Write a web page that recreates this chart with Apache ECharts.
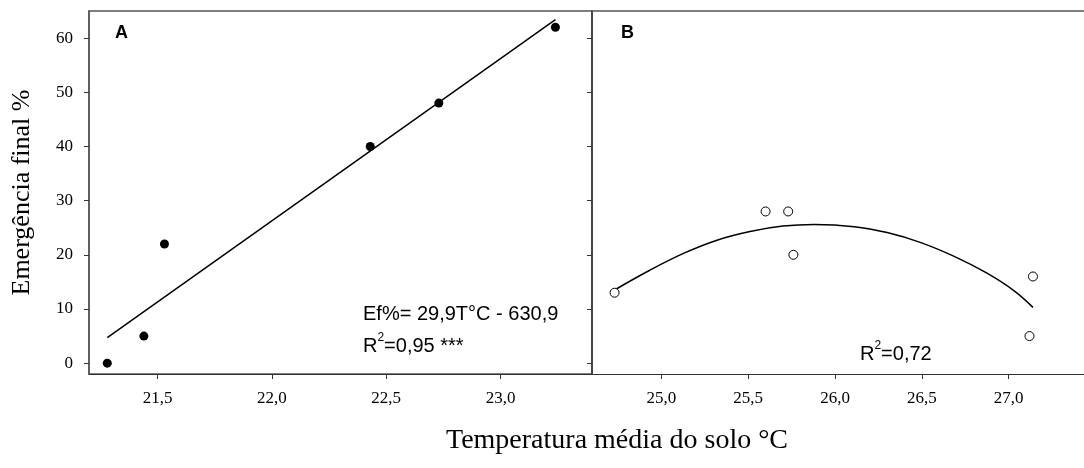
<!DOCTYPE html>
<html>
<head>
<meta charset="utf-8">
<script src="https://cdn.jsdelivr.net/npm/echarts@6/dist/echarts.min.js"></script>
<style>
html,body{margin:0;padding:0;background:#fff;}
#chart{width:1084px;height:468px;}
</style>
</head>
<body>
<div id="chart"></div>
<script>
// Panel A data (filled circles)
const tempA = [21.28, 21.44, 21.53, 22.43, 22.73, 23.24];
const emergA = [0, 5, 22, 40, 48, 62];
// Panel A regression line end points
const fitAx = [21.28, 23.24];
const fitAy = [4.7, 63.4];
// Panel B data (open circles)
const tempB = [24.73, 25.60, 25.73, 25.76, 27.12, 27.14];
const emergB = [13, 28, 28, 20, 5, 16];
// Panel B fitted curve
const fitBx = [24.73, 24.93, 25.13, 25.32, 25.51, 25.70, 25.88, 26.11, 26.30, 26.49, 26.68, 26.87, 27.03, 27.14];
const fitBy = [13.5, 17.1, 20.3, 22.7, 24.3, 25.3, 25.6, 25.2, 24.1, 22.3, 19.8, 16.7, 13.4, 10.3];
// Tick labels
const yTicks = [0, 10, 20, 30, 40, 50, 60];
const xTicksA = [21.5, 22.0, 22.5, 23.0];
const xTicksB = [25.0, 25.5, 26.0, 26.5, 27.0];

const pairs = (xs, ys) => xs.map((x, i) => [x, ys[i]]);
const fmt = v => v.toFixed(1).replace('.', ',');
const serif = 'Liberation Serif, Times New Roman, serif';
const sans = 'Liberation Sans, Arial, sans-serif';

const chart = echarts.init(document.getElementById('chart'));

const xAxisCommon = {
  type: 'value',
  axisLine: {show: true, onZero: false, lineStyle: {color: '#333', width: 1}},
  axisTick: {show: true, length: 5, lineStyle: {color: '#333'}},
  splitLine: {show: false},
  axisLabel: {color: '#000', fontFamily: serif, fontSize: 17, margin: 16, formatter: fmt}
};
const rich = {
  a: {fontFamily: sans, fontSize: 20, color: '#000', verticalAlign: 'bottom', lineHeight: 24},
  s: {fontFamily: sans, fontSize: 12, color: '#000', verticalAlign: 'top', lineHeight: 24}
};

chart.setOption({
  animation: false,
  backgroundColor: '#fff',
  grid: [
    {left: 89, top: 11, width: 503, height: 363, show: true, borderColor: '#555', borderWidth: 1.5},
    {left: 592, top: 11, right: 0, height: 363, show: false}
  ],
  xAxis: [
    Object.assign({}, xAxisCommon, {gridIndex: 0, min: 21.2, max: 23.4,
      axisTick: Object.assign({}, xAxisCommon.axisTick, {customValues: xTicksA}),
      axisLabel: Object.assign({}, xAxisCommon.axisLabel, {customValues: xTicksA})}),
    Object.assign({}, xAxisCommon, {gridIndex: 1, min: 24.6, max: 27.434,
      axisTick: Object.assign({}, xAxisCommon.axisTick, {customValues: xTicksB}),
      axisLabel: Object.assign({}, xAxisCommon.axisLabel, {customValues: xTicksB})}),
    {type: 'value', gridIndex: 1, position: 'top', min: 24.6, max: 27.434,
      axisLine: {show: true, onZero: false, lineStyle: {color: '#555', width: 1.5}},
      axisTick: {show: false}, axisLabel: {show: false}, splitLine: {show: false}}
  ],
  yAxis: [
    {type: 'value', gridIndex: 0, min: -2, max: 65,
      axisLine: {show: true, onZero: false, lineStyle: {color: '#555', width: 1.5}},
      axisTick: {show: true, length: 5, customValues: yTicks, lineStyle: {color: '#333'}},
      axisLabel: {color: '#000', fontFamily: serif, fontSize: 17, margin: 16, customValues: yTicks},
      splitLine: {show: false},
      name: 'Emergência final %', nameLocation: 'middle', nameGap: 54,
      nameTextStyle: {fontFamily: serif, fontSize: 26, color: '#000'}},
    {type: 'value', gridIndex: 1, min: -2, max: 65,
      axisLine: {show: true, onZero: false, lineStyle: {color: '#333', width: 1.5}},
      axisTick: {show: true, length: 5, customValues: yTicks, lineStyle: {color: '#333'}},
      axisLabel: {show: false},
      splitLine: {show: false}}
  ],
  series: [
    {type: 'line', xAxisIndex: 0, yAxisIndex: 0, data: pairs(fitAx, fitAy), showSymbol: false,
      lineStyle: {color: '#000', width: 1.5}, z: 2},
    {type: 'scatter', xAxisIndex: 0, yAxisIndex: 0, data: pairs(tempA, emergA), symbol: 'circle', symbolSize: 9,
      itemStyle: {color: '#000', opacity: 1}, z: 3},
    {type: 'line', xAxisIndex: 1, yAxisIndex: 1, data: pairs(fitBx, fitBy), showSymbol: false, smooth: 0.4,
      lineStyle: {color: '#000', width: 1.5}, z: 2},
    {type: 'scatter', xAxisIndex: 1, yAxisIndex: 1, data: pairs(tempB, emergB), symbol: 'circle', symbolSize: 9,
      itemStyle: {color: '#fff', borderColor: '#000', borderWidth: 1, opacity: 1}, z: 3}
  ],
  graphic: [
    {type: 'text', left: 115, top: 24, style: {text: 'A', font: 'bold 18px ' + sans, fill: '#000'}},
    {type: 'text', left: 621, top: 24, style: {text: 'B', font: 'bold 18px ' + sans, fill: '#000'}},
    {type: 'text', left: 363, top: 304, style: {text: 'Ef%= 29,9T°C - 630,9', font: '20px ' + sans, fill: '#000'}},
    {type: 'text', left: 363, top: 332, style: {text: '{a|R}{s|2}{a|=0,95 ***}', fill: '#000', rich: rich}},
    {type: 'text', left: 860, top: 340, style: {text: '{a|R}{s|2}{a|=0,72}', fill: '#000', rich: rich}},
    {type: 'text', left: 446, top: 427, style: {text: 'Temperatura média do solo °C', font: '28px ' + serif, fill: '#000'}}
  ]
});
</script>
</body>
</html>
